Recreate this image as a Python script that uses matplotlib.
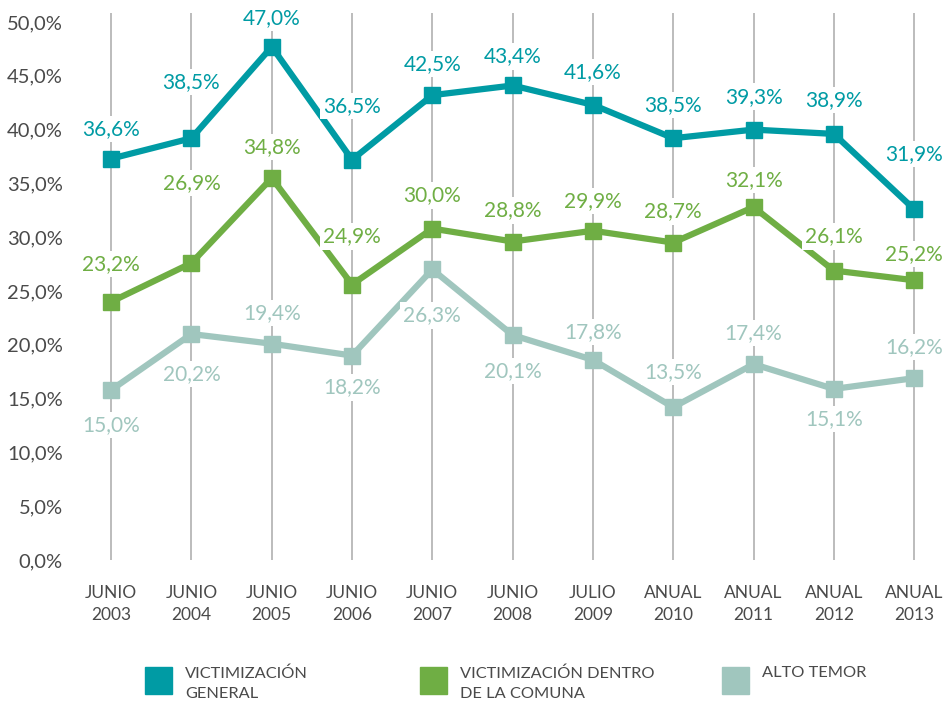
import matplotlib
matplotlib.use("Agg")
import matplotlib.pyplot as plt
from matplotlib.patches import Rectangle

plt.rcParams['font.family'] = ['Lato', 'DejaVu Sans']

periods = ['JUNIO\n2003', 'JUNIO\n2004', 'JUNIO\n2005', 'JUNIO\n2006', 'JUNIO\n2007',
           'JUNIO\n2008', 'JULIO\n2009', 'ANUAL\n2010', 'ANUAL\n2011', 'ANUAL\n2012',
           'ANUAL\n2013']

# marker heights as drawn in the reference
general = [37.3, 39.2, 47.7, 37.2, 43.2, 44.1, 42.3, 39.2, 40.0, 39.6, 32.6]
comuna = [24.0, 27.6, 35.5, 25.6, 30.8, 29.6, 30.6, 29.5, 32.8, 26.9, 26.0]
temor = [15.8, 21.0, 20.1, 19.0, 27.0, 20.9, 18.6, 14.2, 18.2, 15.9, 16.9]

# printed labels
general_lbl = ['36,6%', '38,5%', '47,0%', '36,5%', '42,5%', '43,4%', '41,6%', '38,5%', '39,3%', '38,9%', '31,9%']
comuna_lbl = ['23,2%', '26,9%', '34,8%', '24,9%', '30,0%', '28,8%', '29,9%', '28,7%', '32,1%', '26,1%', '25,2%']
temor_lbl = ['15,0%', '20,2%', '19,4%', '18,2%', '26,3%', '20,1%', '17,8%', '13,5%', '17,4%', '15,1%', '16,2%']

# label offsets in pixels (positive = above the marker)
general_off = [30, 56, 29, 54, 31, 29, 33, 33, 33, 34, 55]
comuna_off = [38, 80, 31, 48, 33, 31, 30, 31, 27, 34, 26]
temor_off = [-35, -40, 31, -32, -46, -36, 28, 35, 31, -30, 31]

yticks = [0, 5, 10, 15, 20, 25, 30, 35, 40, 45, 50]

c_gen = '#009ba4'
c_com = '#6fae44'
c_tem = '#a0c6be'
c_txt = '#4a4a4a'

W, H = 948, 704
fig = plt.figure(figsize=(W / 100, H / 100), dpi=100)
x0, x1 = -0.5, 10.3
left = 71
right = left + (x1 - x0) * 80.3
ax = fig.add_axes([left / W, (H - 560) / H, (right - left) / W, 538 / H])
ax.set_xlim(x0, x1)
ax.set_ylim(0, 50)
for s in ax.spines.values():
    s.set_visible(False)

x = list(range(len(periods)))
ax.vlines(x, 0, 50.85, color='#b0b0b0', lw=1.2, zorder=1, clip_on=False)

for vals, lbls, offs, col in [(general, general_lbl, general_off, c_gen),
                              (comuna, comuna_lbl, comuna_off, c_com),
                              (temor, temor_lbl, temor_off, c_tem)]:
    ax.plot(x, vals, color=col, lw=4.5, marker='s', ms=11.5, zorder=3, clip_on=False)
    for xi, v, t, o in zip(x, vals, lbls, offs):
        ax.annotate(t, (xi, v), xytext=(0, o), textcoords='offset pixels',
                    ha='center', va='center', fontsize=15, color=col, zorder=4,
                    bbox=dict(boxstyle='square,pad=0.15', fc='white', ec='none'))

ax.set_yticks(yticks)
ax.set_yticklabels([f'{v},0%' for v in yticks], fontsize=14.5, color=c_txt)
ax.set_xticks(x)
ax.set_xticklabels(periods, fontsize=12.5, color=c_txt, linespacing=1.45)
ax.tick_params(axis='both', length=0)
ax.tick_params(axis='y', pad=6)
ax.tick_params(axis='x', pad=18)

legend = [('VICTIMIZACIÓN\nGENERAL', c_gen, 145),
          ('VICTIMIZACIÓN DENTRO\nDE LA COMUNA', c_com, 420),
          ('ALTO TEMOR', c_tem, 722)]
for txt, col, px in legend:
    fig.add_artist(Rectangle((px / W, (H - 694) / H), 27 / W, 27 / H,
                             transform=fig.transFigure, color=col))
    fig.text((px + 40) / W, (H - 666) / H, txt, fontsize=11.8, color=c_txt,
             va='top', ha='left', linespacing=1.55)

fig.savefig('out.png', dpi=100)
